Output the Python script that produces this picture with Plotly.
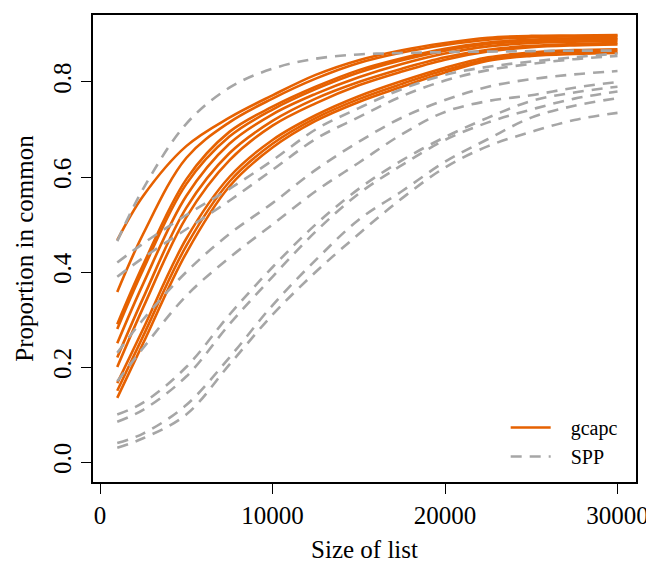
import plotly.graph_objects as go

# ---- data ----
list_size = [1000, 2500, 5000, 7500, 10000, 12500, 15000, 17500, 20000, 22500, 25000, 27500, 30000]

gcapc_1 = [0.467, 0.560, 0.665, 0.725, 0.772, 0.815, 0.846, 0.867, 0.882, 0.893, 0.897, 0.898, 0.899]
gcapc_2 = [0.358, 0.480, 0.640, 0.715, 0.765, 0.807, 0.840, 0.862, 0.878, 0.889, 0.894, 0.896, 0.897]
gcapc_3 = [0.290, 0.415, 0.595, 0.695, 0.748, 0.790, 0.825, 0.850, 0.870, 0.883, 0.889, 0.892, 0.893]
gcapc_4 = [0.280, 0.405, 0.585, 0.685, 0.742, 0.785, 0.820, 0.846, 0.866, 0.880, 0.886, 0.889, 0.890]
gcapc_5 = [0.250, 0.375, 0.560, 0.670, 0.732, 0.775, 0.810, 0.838, 0.860, 0.875, 0.882, 0.885, 0.887]
gcapc_6 = [0.220, 0.345, 0.535, 0.650, 0.718, 0.765, 0.800, 0.828, 0.852, 0.868, 0.876, 0.880, 0.882]
gcapc_7 = [0.200, 0.325, 0.515, 0.635, 0.708, 0.755, 0.793, 0.822, 0.847, 0.864, 0.873, 0.877, 0.879]
gcapc_8 = [0.166, 0.280, 0.470, 0.600, 0.678, 0.730, 0.770, 0.802, 0.830, 0.852, 0.862, 0.867, 0.869]
gcapc_9 = [0.150, 0.265, 0.455, 0.590, 0.670, 0.724, 0.764, 0.796, 0.825, 0.848, 0.858, 0.863, 0.865]
gcapc_10 = [0.135, 0.250, 0.440, 0.580, 0.662, 0.718, 0.758, 0.790, 0.820, 0.845, 0.855, 0.859, 0.861]

spp_1 = [0.465, 0.575, 0.712, 0.788, 0.828, 0.849, 0.858, 0.861, 0.863, 0.864, 0.865, 0.866, 0.866]
spp_2 = [0.420, 0.460, 0.520, 0.575, 0.635, 0.700, 0.745, 0.785, 0.815, 0.832, 0.843, 0.852, 0.860]
spp_3 = [0.390, 0.430, 0.490, 0.550, 0.615, 0.680, 0.726, 0.770, 0.803, 0.825, 0.838, 0.848, 0.855]
spp_4 = [0.230, 0.300, 0.400, 0.480, 0.545, 0.615, 0.674, 0.725, 0.762, 0.790, 0.806, 0.816, 0.823]
spp_5 = [0.170, 0.240, 0.350, 0.430, 0.500, 0.570, 0.630, 0.690, 0.737, 0.760, 0.772, 0.788, 0.800]
spp_6 = [0.100, 0.125, 0.200, 0.310, 0.410, 0.500, 0.575, 0.635, 0.684, 0.725, 0.760, 0.778, 0.790]
spp_7 = [0.085, 0.110, 0.180, 0.290, 0.390, 0.485, 0.565, 0.625, 0.678, 0.715, 0.742, 0.765, 0.780]
spp_8 = [0.040, 0.060, 0.120, 0.220, 0.330, 0.425, 0.510, 0.570, 0.632, 0.680, 0.725, 0.750, 0.766]
spp_9 = [0.030, 0.050, 0.100, 0.205, 0.310, 0.400, 0.480, 0.555, 0.620, 0.665, 0.695, 0.720, 0.735]

gcapc_series = [gcapc_1, gcapc_2, gcapc_3, gcapc_4, gcapc_5, gcapc_6, gcapc_7, gcapc_8, gcapc_9, gcapc_10]
spp_series = [spp_1, spp_2, spp_3, spp_4, spp_5, spp_6, spp_7, spp_8, spp_9]

x_ticks = [0, 10000, 20000, 30000]
x_tick_labels = ["0", "10000", "20000", "30000"]
y_ticks = [0.0, 0.2, 0.4, 0.6, 0.8]
y_tick_labels = ["0.0", "0.2", "0.4", "0.6", "0.8"]

ORANGE = "#E66100"
GREY = "#A6A6A6"
FONT = "Liberation Serif"
PAD = "\u00a0\u00a0\u00a0"

fig = go.Figure()
for i, s in enumerate(gcapc_series):
    fig.add_trace(go.Scatter(x=list_size, y=s, mode="lines", name=PAD + "gcapc",
                             legendgroup="gcapc", showlegend=(i == 0),
                             line=dict(color=ORANGE, width=2.6, shape="spline")))
for i, s in enumerate(spp_series):
    fig.add_trace(go.Scatter(x=list_size, y=s, mode="lines", name=PAD + "SPP",
                             legendgroup="SPP", showlegend=(i == 0),
                             line=dict(color=GREY, width=2.6, dash="11px,8px", shape="spline")))

axis_common = dict(showline=True, mirror=True, linecolor="black", linewidth=2.2,
                   ticks="outside", ticklen=10, tickwidth=1, tickcolor="black",
                   showgrid=False, zeroline=False,
                   tickfont=dict(family=FONT, size=25, color="black"))

fig.update_xaxes(range=[-406, 31072], tickvals=x_ticks, ticktext=x_tick_labels,
                 ticklabeloverflow="allow",
                 title=dict(text="Size of list", font=dict(family=FONT, size=25, color="black"), standoff=12),
                 **axis_common)
fig.update_yaxes(range=[-0.042, 0.941], tickvals=y_ticks, ticktext=y_tick_labels, tickangle=-90,
                 title=dict(text="Proportion in common", font=dict(family=FONT, size=25, color="black"), standoff=8),
                 **axis_common)

fig.update_layout(
    width=646, height=563,
    margin=dict(l=93, r=10, t=15, b=81, autoexpand=False),
    paper_bgcolor="white", plot_bgcolor="white",
    font=dict(family=FONT, color="black"),
    legend=dict(x=0.76, y=0.013, xanchor="left", yanchor="bottom",
                bgcolor="rgba(0,0,0,0)", font=dict(family=FONT, size=20, color="black"),
                tracegroupgap=0, itemwidth=40),
)

fig.write_html("out.html")
